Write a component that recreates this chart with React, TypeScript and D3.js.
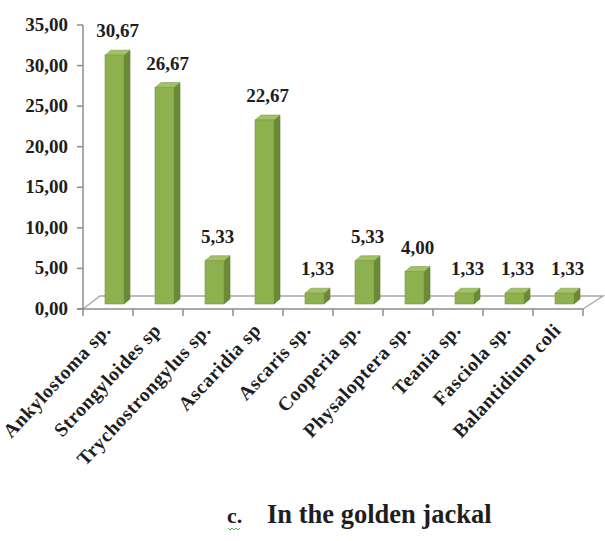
import React from "react";
import * as d3 from "d3";

const categories = [
  "Ankylostoma sp.",
  "Strongyloides sp",
  "Trychostrongylus sp.",
  "Ascaridia sp",
  "Ascaris sp.",
  "Cooperia sp.",
  "Physaloptera sp.",
  "Teania sp.",
  "Fasciola sp.",
  "Balantidium coli",
];
const values = [30.67, 26.67, 5.33, 22.67, 1.33, 5.33, 4.0, 1.33, 1.33, 1.33];
const yTicks = [0, 5, 10, 15, 20, 25, 30, 35];
const titleLetter = "c.";
const titleText = "In the golden jackal";

const W = 605;
const H = 541;
const fmt = (v: number) => v.toFixed(2).replace(".", ",");

export default function App() {
  const x = d3.scaleBand<string>().domain(categories).range([83, 583]);
  const y = d3.scaleLinear().domain([0, 35]).range([309, 25]);
  const yBar = d3.scaleLinear().domain([0, 35]).range([304, 20]);
  const dx = 6;
  const dy = 5;
  const bw = 19;
  const floorDx = 17;
  const floorDy = 13;
  const y0 = y(0);
  const font = "'Liberation Serif', 'Times New Roman', serif";

  return (
    <svg
      width={W}
      height={H}
      style={{ position: "absolute", left: 0, top: 0, background: "#fff" }}
      fontFamily={font}
    >
      {/* floor */}
      <path
        d={`M${83},${y0} L${83 + floorDx},${y0 - floorDy} L${583 + floorDx + 3},${y0 - floorDy} L${583},${y0}`}
        fill="none"
        stroke="#a6a6a6"
        strokeWidth={1.3}
      />
      {/* y axis */}
      <line x1={83} x2={83} y1={y(35)} y2={y0} stroke="#8c8c8c" strokeWidth={1.5} />
      {yTicks.map((t) => (
        <g key={t}>
          <line x1={77} x2={83} y1={y(t)} y2={y(t)} stroke="#8c8c8c" strokeWidth={1.5} />
          <text
            x={68}
            y={y(t) + 6}
            textAnchor="end"
            fontSize={19}
            fontWeight="bold"
            fill="#1e1e1e"
          >
            {fmt(t)}
          </text>
        </g>
      ))}
      {/* x axis */}
      <line x1={77} x2={583} y1={y0} y2={y0} stroke="#8c8c8c" strokeWidth={1.5} />
      {categories.concat(["__end"]).map((c, i) => {
        const xx = 83 + i * x.bandwidth();
        return <line key={c} x1={xx} x2={xx} y1={y0} y2={y0 + 7} stroke="#8c8c8c" strokeWidth={1.5} />;
      })}
      {/* bars */}
      {categories.map((c, i) => {
        const v = values[i];
        const bx = (x(c) as number) + 22;
        const top = yBar(v);
        const base = yBar(0);
        return (
          <g key={c}>
            <path
              d={`M${bx + bw},${top} L${bx + bw + dx},${top - dy} L${bx + bw + dx},${base - dy} L${bx + bw},${base} Z`}
              fill="#6b8a38"
              stroke="#5f7d31"
              strokeWidth={0.6}
            />
            <path
              d={`M${bx},${top} L${bx + dx},${top - dy} L${bx + bw + dx},${top - dy} L${bx + bw},${top} Z`}
              fill="#a3c167"
              stroke="#7f9c48"
              strokeWidth={0.6}
            />
            <rect x={bx} y={top} width={bw} height={base - top} fill="#8db14f" stroke="#7a9a42" strokeWidth={0.6} />
            <text
              x={bx + bw / 2 + 3}
              y={top - 18}
              textAnchor="middle"
              fontSize={19}
              fontWeight="bold"
              fill="#1e1e1e"
            >
              {fmt(v)}
            </text>
          </g>
        );
      })}
      {/* category labels */}
      {categories.map((c) => {
        const cx = (x(c) as number) + x.bandwidth() / 2 + 4;
        return (
          <text
            key={c}
            transform={`translate(${cx},${331}) rotate(-47)`}
            textAnchor="end"
            fontSize={19.5}
            fontWeight="bold"
            letterSpacing={0.6}
            fill="#1e1e1e"
          >
            {c}
          </text>
        );
      })}
      {/* title */}
      <text x={227} y={523} fontSize={22} fontWeight="bold" fill="#1e1e1e">
        {titleLetter}
      </text>
      <path
        d="M228,528 l2,2 l2,-2 l2,2 l2,-2 l2,2 l2,-2"
        fill="none"
        stroke="#4caf50"
        strokeWidth={1}
      />
      <text x={267} y={523} fontSize={26.5} fontWeight="bold" fill="#1e1e1e">
        {titleText}
      </text>
    </svg>
  );
}
